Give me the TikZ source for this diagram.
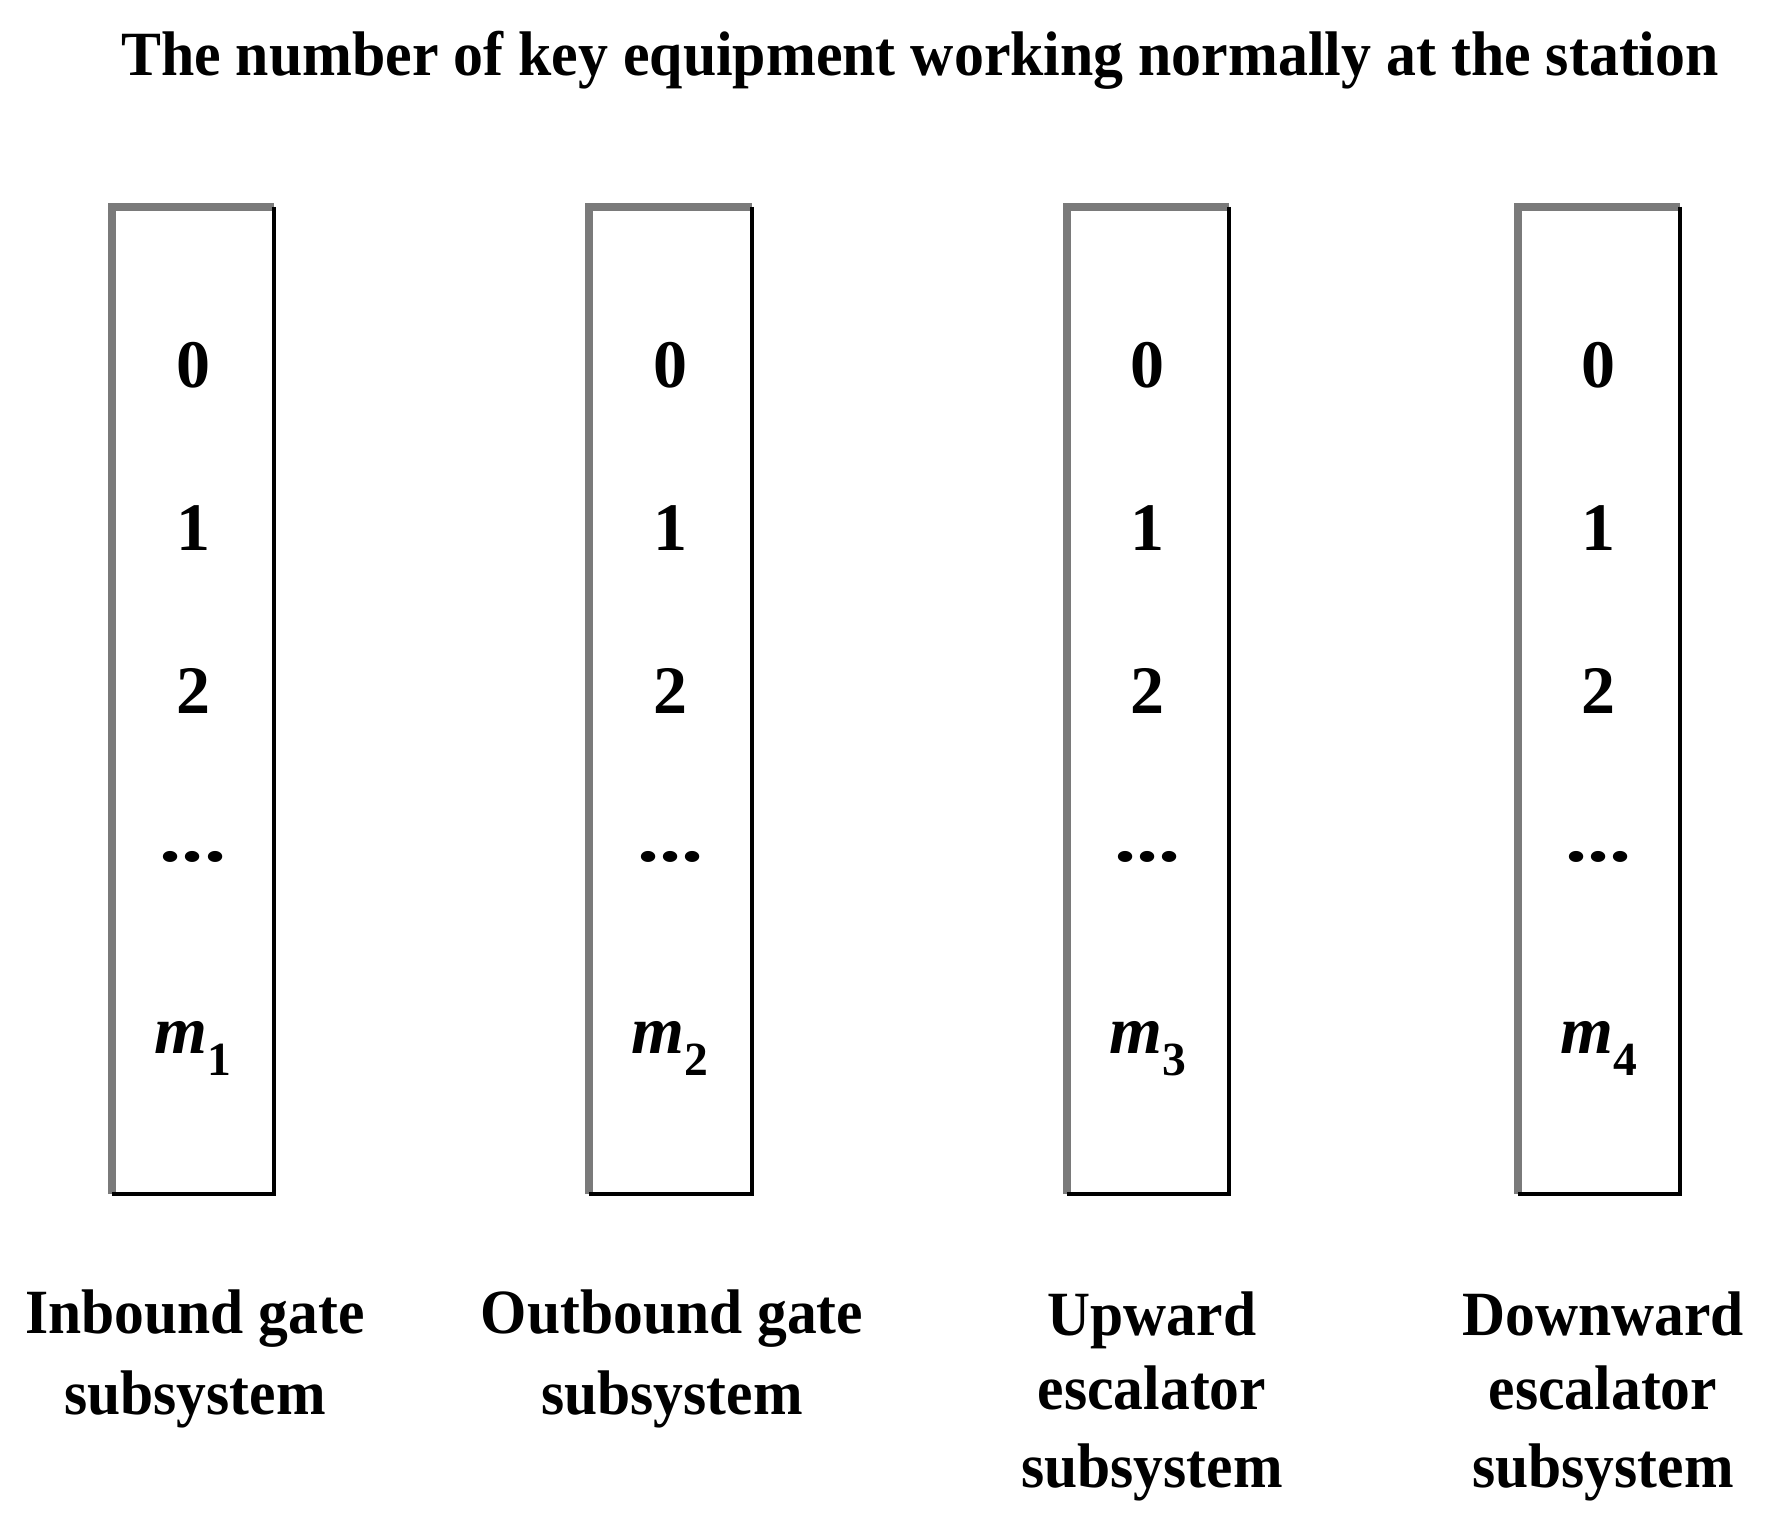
\documentclass[tikz,border=0pt]{standalone}
\usepackage{fontspec}
\setmainfont{Liberation Serif}
\newcommand{\cond}[1]{\scalebox{0.945}[1]{#1}}
\begin{document}
\begin{tikzpicture}[x=1pt,y=-1pt,
  big/.style={font=\fontsize{63}{63}\selectfont\bfseries, inner sep=0pt, anchor=base},
  digit/.style={font=\fontsize{68}{68}\selectfont\bfseries, inner sep=0pt, anchor=base},
  col/.style={minimum width=162pt, minimum height=987pt, inner sep=0pt, draw=none}]
\useasboundingbox (0,0) rectangle (1770,1513);
\node[big] (title) at (920,75) {\scalebox{0.95}[1]{The number of key equipment working normally at the station}};
\foreach \i/\x in {1/193,2/670.5,3/1147.75,4/1598.75}{
  \node[col] (b\i) at (\x,700.5) {};
  \draw[line width=8pt, color=black!52] (b\i.south west) -- (b\i.north west) -- (b\i.north east);
  \draw[line width=4pt, black] (b\i.north east) -- (b\i.south east) -- (b\i.south west);
  \node[digit] (z\i) at (\x,387) {0};
  \node[digit] (o\i) at (\x,550) {1};
  \node[digit] (t\i) at (\x,713) {2};
  \node[digit] (d\i) at (\x,861) {\scalebox{1.3}[1]{...}};
  \node[digit] (m\i) at (\x,1053) {\textit{m}\textsubscript{\i}};
}
\node[big] (l1a) at (195,1333) {\cond{Inbound gate}};
\node[big] (l1b) at (195,1414) {\cond{subsystem}};
\node[big] (l2a) at (672,1333) {\cond{Outbound gate}};
\node[big] (l2b) at (672,1414) {\cond{subsystem}};
\node[big] (l3a) at (1152,1335) {\cond{Upward}};
\node[big] (l3b) at (1152,1409) {\cond{escalator}};
\node[big] (l3c) at (1152,1487) {\cond{subsystem}};
\node[big] (l4a) at (1603,1335) {\cond{Downward}};
\node[big] (l4b) at (1603,1409) {\cond{escalator}};
\node[big] (l4c) at (1603,1487) {\cond{subsystem}};
\end{tikzpicture}
\end{document}
